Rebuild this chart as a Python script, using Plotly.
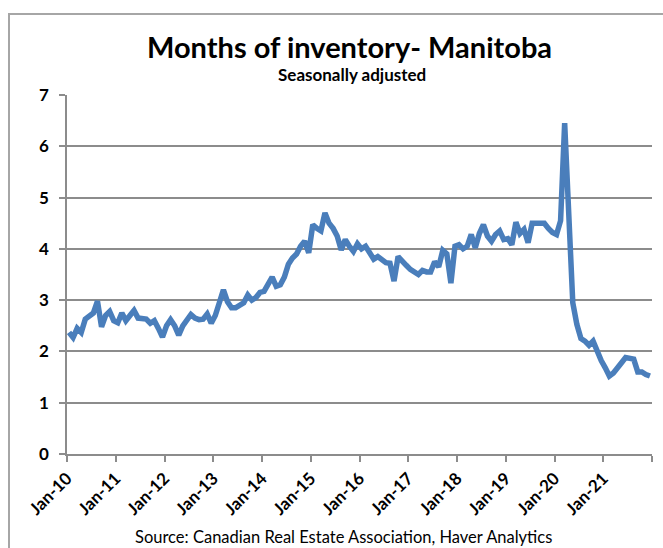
import plotly.graph_objects as go

# Monthly data Jan-2010 .. Dec-2021 (months of inventory, Manitoba, SA)
values_2010_2011 = [2.37, 2.27, 2.45, 2.37, 2.63, 2.70, 2.75, 2.98, 2.48, 2.70, 2.78, 2.60,
                    2.56, 2.75, 2.60, 2.70, 2.80, 2.65, 2.65, 2.63, 2.55, 2.60, 2.45, 2.28]
values_2012_2013 = [2.50, 2.62, 2.50, 2.32, 2.50, 2.63, 2.72, 2.65, 2.62, 2.63, 2.73, 2.55,
                    2.70, 2.95, 3.20, 2.97, 2.85, 2.85, 2.90, 2.95, 3.10, 3.00, 3.05, 3.15]
values_2014_2015 = [3.17, 3.30, 3.45, 3.27, 3.30, 3.45, 3.70, 3.82, 3.90, 4.05, 4.15, 3.92,
                    4.47, 4.40, 4.35, 4.70, 4.50, 4.40, 4.25, 3.98, 4.18, 4.05, 3.95, 4.10]
values_2016_2017 = [4.00, 4.05, 3.90, 3.80, 3.85, 3.78, 3.73, 3.72, 3.37, 3.85, 3.75, 3.68,
                    3.60, 3.55, 3.50, 3.58, 3.55, 3.55, 3.75, 3.65, 3.97, 3.90, 3.33, 4.05]
values_2018_2019 = [4.08, 4.00, 4.05, 4.28, 4.02, 4.30, 4.47, 4.25, 4.15, 4.28, 4.35, 4.18,
                    4.20, 4.08, 4.52, 4.30, 4.38, 4.12, 4.50, 4.50, 4.50, 4.50, 4.40, 4.32]
values_2020_2021 = [4.28, 4.55, 6.45, 4.70, 2.95, 2.53, 2.25, 2.20, 2.12, 2.20, 2.00, 1.82,
                    1.68, 1.52, 1.58, 1.70, 1.78, 1.88, 1.87, 1.85, 1.60, 1.60, 1.55, 1.52]

values = (values_2010_2011 + values_2012_2013 + values_2014_2015 +
          values_2016_2017 + values_2018_2019 + values_2020_2021)

tick_labels = ["Jan-10", "Jan-11", "Jan-12", "Jan-13", "Jan-14", "Jan-15",
               "Jan-16", "Jan-17", "Jan-18", "Jan-19", "Jan-20", "Jan-21", ""]
y_ticks = [0, 1, 2, 3, 4, 5, 6, 7]

x_idx = list(range(len(values)))
tick_pos = [i * 12 - 0.5 for i in range(len(tick_labels))]

FONT = "Lato"
GRID = "#8c8c8c"

fig = go.Figure()
fig.add_trace(go.Scatter(
    x=x_idx, y=values, mode="lines",
    line=dict(color="#4a7ebb", width=5.5),
    hoverinfo="skip", showlegend=False,
))

W, H = 663, 548
L, R, T, B = 67, 11, 95, 94
pw, ph = W - L - R, H - T - B

def px_x(p):
    return (p - L) / pw

def px_y(p):
    return (H - B - p) / ph

fig.update_layout(
    width=W, height=H,
    margin=dict(l=L, r=R, t=T, b=B),
    paper_bgcolor="white", plot_bgcolor="white",
    font=dict(family=FONT, color="black"),
    xaxis=dict(
        range=[-0.5, len(values) - 0.5],
        tickmode="array", tickvals=tick_pos, ticktext=tick_labels,
        tickangle=-45, ticks="outside", ticklen=6, tickcolor=GRID, tickwidth=1.5,
        showline=True, linecolor=GRID, linewidth=1.5,
        showgrid=False, zeroline=False,
        tickfont=dict(family=FONT, size=17, weight="bold"),
    ),
    yaxis=dict(
        range=[0, 7], tickmode="array", tickvals=y_ticks,
        ticks="outside", ticklen=6, tickcolor=GRID, tickwidth=1.5,
        showline=True, linecolor=GRID, linewidth=1.5,
        showgrid=True, gridcolor=GRID, gridwidth=1.5,
        zeroline=False, ticklabelstandoff=7,
        tickfont=dict(family=FONT, size=17, weight="bold"),
    ),
    shapes=[dict(
        type="rect", xref="paper", yref="paper",
        x0=px_x(9), x1=px_x(680), y0=px_y(560), y1=px_y(14),
        line=dict(color="#a6a6a6", width=2), fillcolor="rgba(0,0,0,0)",
        layer="below",
    )],
    annotations=[
        dict(text="<b>Months of inventory- Manitoba</b>", xref="paper", yref="paper",
             x=px_x(349), y=px_y(46), showarrow=False, xanchor="center", yanchor="middle",
             font=dict(family=FONT, size=29, color="black")),
        dict(text="<b>Seasonally adjusted</b>", xref="paper", yref="paper",
             x=px_x(352), y=px_y(74), showarrow=False, xanchor="center", yanchor="middle",
             font=dict(family=FONT, size=17, color="black")),
        dict(text="Source: Canadian Real Estate Association, Haver Analytics",
             xref="paper", yref="paper",
             x=px_x(343), y=px_y(537), showarrow=False, xanchor="center", yanchor="middle",
             font=dict(family=FONT, size=16.5, color="black")),
    ],
)

fig.write_html("out.html",
               config={"displayModeBar": False},
               post_script="document.body.style.margin='0';document.body.style.overflow='hidden';")
